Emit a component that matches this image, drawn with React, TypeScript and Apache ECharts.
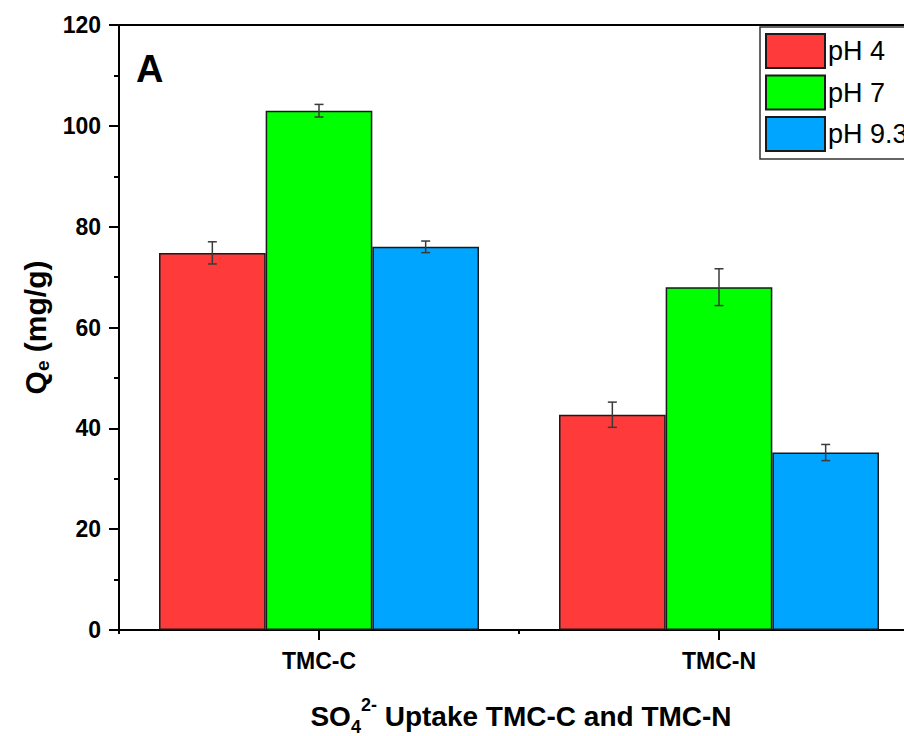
import React, { useEffect, useRef } from "react";
import * as echarts from "echarts";

const categories = ["TMC-C", "TMC-N"];
const seriesNames = ["pH 4", "pH 7", "pH 9.3"];
const ph4Values = [74.8, 42.7];
const ph7Values = [103.0, 68.0];
const ph93Values = [76.0, 35.2];
const ph4Errors = [2.2, 2.5];
const ph7Errors = [1.25, 3.65];
const ph93Errors = [1.15, 1.6];
const yTicks = [0, 20, 40, 60, 80, 100, 120];

const colors = ["#FF3A3A", "#00FF00", "#00A5FF"];
const FONT = '"Liberation Sans", Arial, sans-serif';

export default function App() {
  const ref = useRef<HTMLDivElement>(null);
  useEffect(() => {
    if (!ref.current) return;
    const chart = echarts.init(ref.current, undefined, { renderer: "svg" });
    const values = [ph4Values, ph7Values, ph93Values];
    const errors = [ph4Errors, ph7Errors, ph93Errors];

    const barSeries = seriesNames.map((name, i) => ({
      name,
      type: "bar",
      xAxisIndex: 0,
      data: values[i],
      barGap: "0%",
      barCategoryGap: "20%",
      itemStyle: { color: colors[i], borderColor: "#1a1a1a", borderWidth: 1.5 },
      z: 2,
    }));

    const errSeries = seriesNames.map((name, i) => ({
      name: name + " err",
      type: "custom",
      xAxisIndex: 0,
      z: 5,
      data: categories.map((_, c) => [c, values[i][c], errors[i][c]]),
      renderItem: (params: any, api: any) => {
        const c = api.value(0);
        const v = api.value(1);
        const e = api.value(2);
        const center = api.coord([c, v]);
        const band = api.size([1, 0])[0];
        const barW = (band * 0.8) / 3;
        const x = center[0] + (i - 1) * barW;
        const top = api.coord([c, v + e])[1];
        const bot = api.coord([c, v - e])[1];
        const cap = 4.5;
        const st = { stroke: "#3a3a3a", lineWidth: 1.5 };
        return {
          type: "group",
          children: [
            { type: "line", shape: { x1: x, y1: top, x2: x, y2: bot }, style: st },
            { type: "line", shape: { x1: x - cap, y1: top, x2: x + cap, y2: top }, style: st },
            { type: "line", shape: { x1: x - cap, y1: bot, x2: x + cap, y2: bot }, style: st },
          ],
        };
      },
    }));

    chart.setOption({
      animation: false,
      backgroundColor: "#ffffff",
      grid: {
        left: 119,
        top: 25,
        width: 800,
        height: 605,
        show: true,
        borderColor: "#000",
        borderWidth: 2,
        containLabel: false,
        outerBoundsMode: "none",
      },
      legend: {
        data: seriesNames,
        orient: "vertical",
        left: 760,
        top: 27,
        itemWidth: 59,
        itemHeight: 34,
        itemGap: 5.5,
        padding: [6, 40, 7, 5],
        borderColor: "#333",
        borderWidth: 1.5,
        backgroundColor: "#fff",
        icon: "rect",
        textStyle: { fontFamily: FONT, fontSize: 27, color: "#000", padding: [0, 0, 0, -2] },
      },
      xAxis: [
        {
          type: "category",
          data: categories,
          position: "bottom",
          axisLine: { show: true, lineStyle: { color: "#000", width: 2 } },
          axisTick: { show: true, alignWithLabel: true, length: 10, lineStyle: { color: "#000", width: 2 } },
          axisLabel: {
            margin: 19,
            fontFamily: FONT,
            fontWeight: "bold",
            fontSize: 23,
            color: "#000",
          },
          splitLine: { show: false },
        },
        {
          type: "category",
          data: categories,
          position: "bottom",
          offset: 0,
          axisLine: { show: false },
          axisTick: { show: true, length: 4, lineStyle: { color: "#000", width: 2 } },
          axisLabel: { show: false },
          splitLine: { show: false },
        },
      ],
      yAxis: {
        type: "value",
        min: 0,
        max: 120,
        interval: 20,
        name: "{a|Q}{b|e}{a| (mg/g)}",
        nameLocation: "middle",
        nameGap: 64,
        nameTextStyle: {
          rich: {
            a: { fontFamily: FONT, fontWeight: "bold", fontSize: 30, color: "#000" },
            b: { fontFamily: FONT, fontWeight: "bold", fontSize: 19, color: "#000", verticalAlign: "bottom", padding: [14, 0, 0, 0] },
          },
        },
        axisLine: { show: true, lineStyle: { color: "#000", width: 2 } },
        axisTick: { show: true, inside: false, length: 10, lineStyle: { color: "#000", width: 2 } },
        minorTick: { show: true, splitNumber: 2, length: 5, lineStyle: { color: "#000", width: 2 } },
        axisLabel: {
          margin: 18,
          fontFamily: FONT,
          fontWeight: "bold",
          fontSize: 23,
          color: "#000",
          formatter: (v: number) => (yTicks.includes(v) ? String(v) : ""),
        },
        splitLine: { show: false },
      },
      graphic: [
        {
          type: "text",
          left: 136,
          top: 50,
          style: { text: "A", fontFamily: FONT, fontWeight: "bold", fontSize: 38, fill: "#000" },
        },
        {
          type: "text",
          x: 521,
          y: 716,
          style: {
            text: "{a|SO}{sub|4}{sup|2-}{a| Uptake TMC-C and TMC-N}",
            align: "center",
            verticalAlign: "middle",
            rich: {
              a: { fontFamily: FONT, fontWeight: "bold", fontSize: 28, fill: "#000", lineHeight: 40 },
              sub: { fontFamily: FONT, fontWeight: "bold", fontSize: 18, fill: "#000", verticalAlign: "bottom", lineHeight: 40, padding: [14, 0, 0, 0] },
              sup: { fontFamily: FONT, fontWeight: "bold", fontSize: 18, fill: "#000", verticalAlign: "top", lineHeight: 40, padding: [0, 0, 14, 0] },
            },
          },
        },
      ],
      series: [...barSeries, ...errSeries],
    });
    return () => chart.dispose();
  }, []);

  return (
    <div
      ref={ref}
      style={{ position: "fixed", left: 0, top: 0, width: 904, height: 736, background: "#fff" }}
    />
  );
}
